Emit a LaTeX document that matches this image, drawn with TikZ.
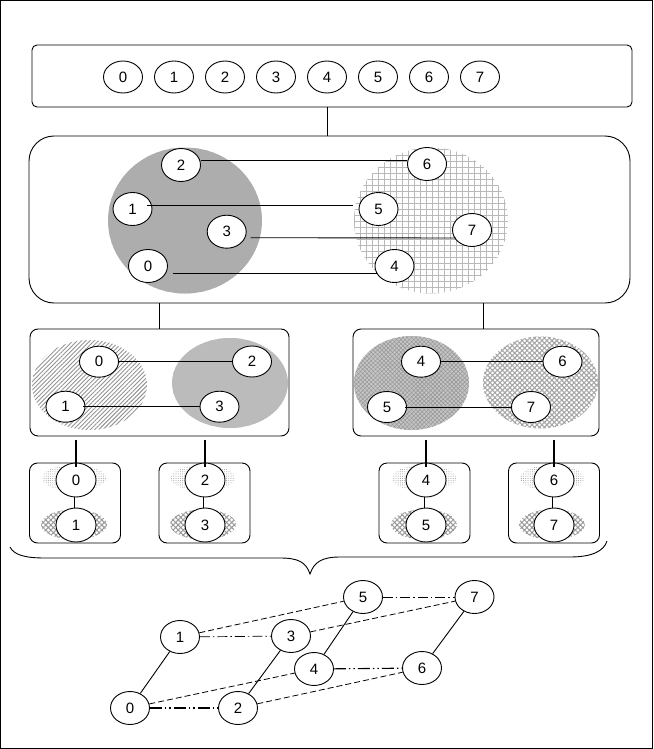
\documentclass[tikz,border=0pt]{standalone}
\usepackage{fontspec}
\setmainfont{Liberation Sans}
\usetikzlibrary{shapes.geometric,patterns.meta,calc}
\begin{document}
\begin{tikzpicture}[x=1pt,y=-1pt,line width=0.9pt,
  nd/.style={ellipse,draw,fill=white,minimum width=39pt,minimum height=33pt,inner sep=0pt,font=\fontsize{15}{17}\selectfont},
  ndt/.style={nd,minimum height=31pt},
  box/.style={draw,rounded corners=#1,inner sep=0pt},
  conn/.style={line width=0.9pt},
  thickconn/.style={line width=1.6pt},
  shBigL/.style={fill=gray!55,postaction={pattern={Dots[distance=2pt,radius=0.55pt]},pattern color=gray!95}},
  shBigR/.style={pattern={Hatch[angle=0,distance=6pt,line width=0.9pt]},pattern color=gray!55},
  shA/.style={pattern={Lines[angle=45,distance=3pt,line width=0.9pt]},pattern color=gray!85},
  shB/.style={fill=gray!45,postaction={pattern={Dots[distance=2pt,radius=0.55pt]},pattern color=gray!80}},
  shC/.style={fill=gray!45,postaction={pattern={Hatch[angle=45,distance=3pt,line width=0.6pt]},pattern color=gray!80}},
  shD/.style={pattern={Hatch[angle=45,distance=3.5pt,line width=1.1pt]},pattern color=gray!70},
  shDots/.style={pattern={Dots[distance=2.2pt,radius=0.5pt]},pattern color=gray!80},
  shHatch/.style={pattern={Hatch[angle=45,distance=3.6pt,line width=1pt]},pattern color=gray!80},
  dashdd/.style={line width=1.1pt,dash pattern=on 12pt off 3pt on 1.5pt off 3pt on 1.5pt off 3pt},
  dashd/.style={line width=0.7pt,dash pattern=on 10pt off 3pt on 1.5pt off 3pt},
  dsh/.style={line width=0.8pt,dash pattern=on 6pt off 3pt}
]
\useasboundingbox (0,0) rectangle (653,749);
\draw[line width=1pt] (0.5,0.5) rectangle (652.5,748.5);

% ---------- level 1 ----------
\node[box=5pt,minimum width=600pt,minimum height=62pt] (top) at (332,76) {};
\foreach \i/\x in {0/123,1/174,2/225,3/276,4/327,5/378,6/429,7/480}
  \node[nd,minimum height=32pt] (t\i) at (\x,77) {\i};

% ---------- level 2 ----------
\node[box=25pt,minimum width=601pt,minimum height=167pt] (big) at (329.5,219.5) {};
\fill[shBigL] (185,220.5) ellipse [x radius=77pt,y radius=73pt];
\fill[shBigR] (431,220.5) ellipse [x radius=77pt,y radius=73pt];
\node[nd] (b2) at (181,165) {2};
\node[nd] (b1) at (132.5,209) {1};
\node[nd] (b3) at (226.7,231.7) {3};
\node[nd] (b0) at (148,266) {0};
\node[nd] (b6) at (427,164) {6};
\node[nd] (b5) at (378.5,209) {5};
\node[nd] (b7) at (472,230) {7};
\node[nd] (b4) at (394.5,266) {4};
\draw[conn] ($(b2.east)+(0,-5)$) -- ($(b6.west)+(0,-4)$);
\draw[conn] ($(b1.east)+(-5,-4)$) -- ($(b5.west)+(-6,-4)$);
\draw[conn] ($(b3.east)+(4,6)$) -- ($(b7.west)+(4,8)$);
\draw[conn] ($(b0.east)+(5,7)$) -- ($(b4.west)+(2,7)$);
\draw[conn] (t4.south |- top.south) -- (t4.south |- big.north);

% ---------- level 3 ----------
\node[box=8pt,minimum width=259pt,minimum height=107pt] (lL) at (159.5,382.5) {};
\node[box=8pt,minimum width=246pt,minimum height=107pt] (lR) at (476,382.5) {};
\fill[shA] (89.5,385) ellipse [x radius=57.5pt,y radius=45pt];
\fill[shB] (230,383) ellipse [x radius=58pt,y radius=45pt];
\fill[shC] (411.5,383) ellipse [x radius=57.5pt,y radius=47pt];
\fill[shD] (540.5,382.5) ellipse [x radius=57.5pt,y radius=46pt];
\node[ndt] (m0) at (99,361.7) {0};
\node[ndt] (m2) at (252,361.5) {2};
\node[ndt] (m1) at (65.5,406.7) {1};
\node[ndt] (m3) at (219.5,406.7) {3};
\node[ndt] (m4) at (421,361.7) {4};
\node[ndt] (m6) at (562.5,361.7) {6};
\node[ndt] (m5) at (387,407) {5};
\node[ndt] (m7) at (531,407) {7};
\draw[conn] (m0.east) -- (m0.east -| m2.west);
\draw[conn] ($(m1.east)+(-2,0)$) -- (m1.east -| m3.west);
\draw[conn] (m4.east) -- (m4.east -| m6.west);
\draw[conn] ($(m5.east)+(-2,0)$) -- (m5.east -| m7.west);
\coordinate (jL) at (159,0);
\coordinate (jR) at (483,0);
\draw[conn] (jL |- big.south) -- (jL |- lL.north);
\draw[conn] (jR |- big.south) -- (jR |- lR.north);

% ---------- level 4 ----------
\foreach \n/\cx in {A/75,B/204.5,C/424.5,D/554}{
  \node[box=8pt,minimum width=91pt,minimum height=80pt] (q\n) at (\cx,503) {};
}
\foreach \a/\b/\x in {0/1/76,2/3/205,4/5/426,6/7/554}{
  \fill[shDots] (\x-2,478) ellipse [x radius=32pt,y radius=13pt];
  \fill[shHatch] (\x-2,524.5) ellipse [x radius=33pt,y radius=15pt];
  \node[nd,minimum width=40pt,minimum height=34pt] (q\a) at (\x,480) {\a};
  \node[nd,minimum width=40pt,minimum height=34pt] (q\b) at (\x,525) {\b};
  \draw[conn] ($(q\a.south)+(-2,0)$) -- ($(q\b.north)+(-2,0)$);
  \coordinate (s\a) at (\x,440);
  \draw[thickconn] (s\a) -- ([yshift=-4pt]q\a.north);
}

% ---------- brace ----------
\draw[line width=0.9pt] (10,547) .. controls (14,555) and (25,558) .. (45,558)
  -- (280,558) .. controls (298,558) and (306,562) .. (310,574)
  .. controls (314,562) and (322,557) .. (340,557)
  -- (570,557) .. controls (592,557) and (604,551) .. (607,541);

% ---------- hypercube ----------
\node[nd] (c0) at (130,708) {0};
\node[nd] (c2) at (238,708) {2};
\node[nd] (c1) at (180,637) {1};
\node[nd] (c3) at (291,636) {3};
\node[nd] (c4) at (314,669) {4};
\node[nd] (c6) at (422,668) {6};
\node[nd] (c5) at (363,597) {5};
\node[nd] (c7) at (474.5,597) {7};
\draw[conn] (c0) -- (c1);
\draw[conn] (c2) -- (c3);
\draw[conn] (c4) -- (c5);
\draw[conn] (c6) -- (c7);
\draw[dashdd] (c0) -- (c2);
\draw[dashdd] (c4) -- (c6);
\draw[dashd] (c1) -- (c3);
\draw[dashd] (c5) -- (c7);
\draw[dsh] (c1) -- (c5);
\draw[dsh] (c3) -- (c7);
\draw[dsh] (c0) -- (c4);
\draw[dsh] (c2) -- (c6);
\end{tikzpicture}
\end{document}
